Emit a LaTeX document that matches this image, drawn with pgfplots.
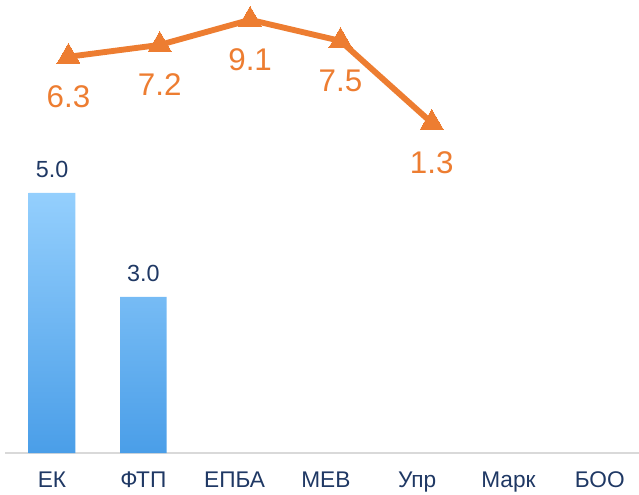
\documentclass[border=0pt]{standalone}
\usepackage{fontspec}
\setmainfont{Liberation Sans}
\usepackage{pgfplots}
\pgfplotsset{compat=1.18}
\definecolor{barTop}{HTML}{94CFFD}
\definecolor{barBot}{HTML}{4A9EE8}
\definecolor{navy}{HTML}{1F3864}
\definecolor{lineOr}{HTML}{ED7D31}
\definecolor{baseGray}{HTML}{D9D9D9}

\begin{document}
\begin{tikzpicture}
\useasboundingbox (0,0) rectangle (479.25pt,370.5pt);

% bars
\begin{axis}[
    at={(3.75pt,30.75pt)}, anchor=south west,
    scale only axis, width=475.5pt, height=339.75pt,
    xmin=-0.515, xmax=6.43, ymin=0, ymax=8.71,
    hide y axis,
    axis x line=bottom,
    x axis line style={-, draw=baseGray, line width=1.5pt},
    xtick={0,...,6},
    xticklabels={ЕК,ФТП,ЕПБА,МЕВ,Упр,Марк,БОО},
    xtick style={draw=none},
    xticklabel style={font=\fontsize{17}{20}\selectfont, text=navy, yshift=-6pt},
    ybar, bar width=0.51,
    nodes near coords,
    every node near coord/.append style={font=\fontsize{17.5}{20}\selectfont, text=navy, yshift=8pt},
    /pgf/number format/assume math mode=true,
    /pgf/number format/.cd, fixed, fixed zerofill, precision=1,
]
\addplot[draw=none, top color=barTop, bottom color=barBot] coordinates {
    (0, 5.0)
    (1, 3.0)
};
\end{axis}

% line on secondary scale
\begin{axis}[
    at={(3.75pt,30.75pt)}, anchor=south west,
    scale only axis, width=475.5pt, height=339.75pt,
    xmin=-0.515, xmax=6.43, ymin=-23.7, ymax=10.6,
    hide axis,
    nodes near coords,
    every node near coord/.append style={font=\fontsize{23.5}{26}\selectfont, text=lineOr, anchor=center, yshift=-30pt},
    /pgf/number format/assume math mode=true,
    /pgf/number format/.cd, fixed, fixed zerofill, precision=1,
]
\addplot[color=lineOr, line width=4.4pt, mark=triangle*, mark size=10pt,
    mark options={line width=0pt}] coordinates {
    (0.18, 6.3)
    (1.18, 7.2)
    (2.17, 9.1)
    (3.16, 7.5)
    (4.16, 1.3)
};
\end{axis}
\end{tikzpicture}
\end{document}
